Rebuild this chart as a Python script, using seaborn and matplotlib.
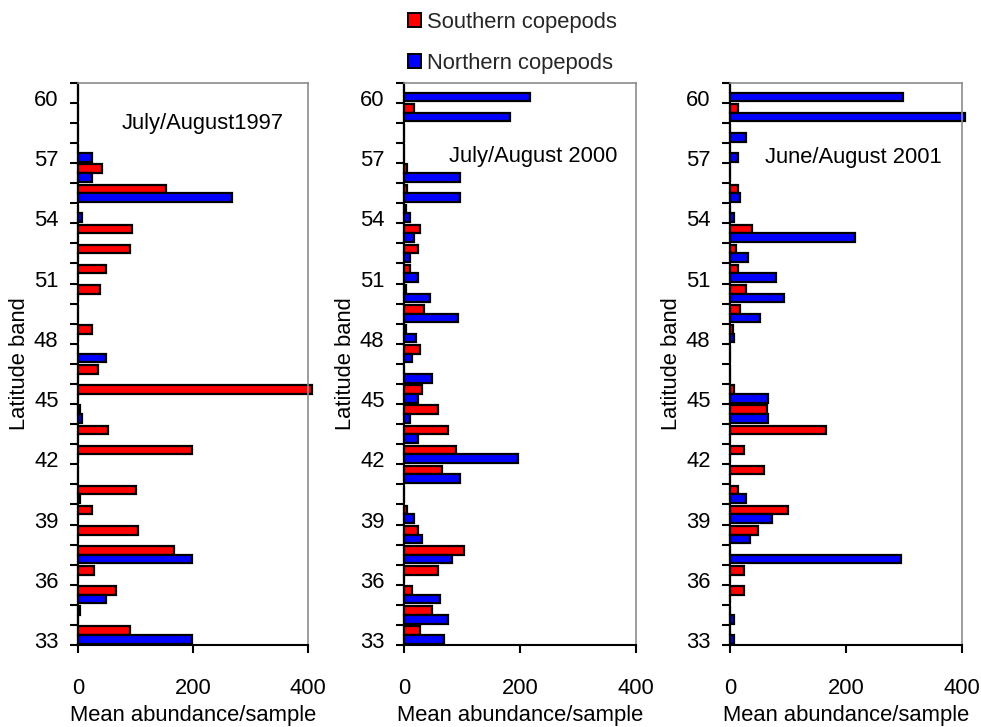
import numpy as np
import pandas as pd
import matplotlib
matplotlib.use("Agg")
import matplotlib.pyplot as plt
import seaborn as sns
from matplotlib.patches import Patch
from matplotlib.transforms import ScaledTranslation

# ---------------- data ----------------
latitudes = list(range(33, 61))  # latitude bands 33..60

south_1997 = [90, 3, 66, 28, 167, 104, 24, 101, 0, 199, 52, 3, 407, 35, 0, 24,
              0, 38, 48, 90, 94, 0, 153, 42, 0, 0, 0, 0]
north_1997 = [199, 0, 49, 0, 199, 0, 0, 3, 0, 0, 0, 7, 0, 0, 49, 0,
              0, 0, 0, 0, 0, 7, 268, 24, 24, 0, 0, 0]

south_2000 = [28, 48, 13, 59, 104, 24, 6, 0, 66, 90, 76, 59, 31, 0, 28, 3,
              35, 3, 10, 24, 28, 3, 6, 6, 0, 0, 17, 0]
north_2000 = [69, 76, 62, 0, 83, 31, 17, 0, 97, 197, 24, 10, 24, 48, 14, 21,
              93, 45, 24, 10, 17, 10, 97, 97, 0, 0, 183, 218]

south_2001 = [0, 0, 24, 24, 0, 48, 100, 14, 59, 24, 166, 64, 7, 0, 0, 6,
              17, 28, 14, 10, 38, 0, 14, 0, 0, 0, 14, 0]
north_2001 = [7, 7, 0, 0, 294, 35, 73, 28, 0, 0, 0, 66, 66, 0, 0, 7,
              52, 93, 79, 31, 215, 7, 18, 0, 14, 28, 405, 298]

titles = ["July/August1997", "July/August 2000", "June/August 2001"]
groups = ["Southern copepods", "Northern copepods"]
colors = ["#FF0000", "#0000FF"]
xticks = [0, 200, 400]
ytick_labels = list(range(33, 61, 3))
xlabel = "Mean abundance/sample"
ylabel = "Latitude band"

panels = [(south_1997, north_1997), (south_2000, north_2000), (south_2001, north_2001)]

# ---------------- style ----------------
sns.set_theme(style="white")
plt.rcParams["font.family"] = ["Liberation Sans", "DejaVu Sans"]
FS = 15.8

W, H = 981, 727
fig = plt.figure(figsize=(W / 100, H / 100), dpi=100)

lefts = [78, 404, 730]
widths = [230, 232, 232]
ax_bottom, ax_top = 645, 82.7
title_pos = [(0.543, 0.918), (0.556, 0.859), (0.530, 0.858)]

order = [str(v) for v in reversed(latitudes)]
n = len(latitudes)

for i, ((south, north), title) in enumerate(zip(panels, titles)):
    ax = fig.add_axes([lefts[i] / W, (H - ax_bottom) / H, widths[i] / W,
                       (ax_bottom - ax_top) / H])
    df = pd.DataFrame({
        "lat": [str(v) for v in latitudes] * 2,
        "group": [groups[0]] * n + [groups[1]] * n,
        "value": list(south) + list(north),
    })
    sns.barplot(data=df, y="lat", x="value", hue="group", hue_order=groups,
                order=order, palette=colors, orient="h", width=0.86,
                errorbar=None, edgecolor="black", linewidth=1.6,
                saturation=1, legend=False, ax=ax)
    for p in ax.patches:
        p.set_clip_on(False)

    ax.set_xlim(0, 400)
    ax.set_xticks(xticks)
    ax.set_xticklabels([str(t) for t in xticks])
    ax.set_ylim(n - 0.5, -0.5)
    ypos = np.arange(-0.5, n, 1.0)
    ax.set_yticks(ypos)
    labs = []
    for p in ypos:
        lat = int(round(60.5 - p))
        labs.append(str(lat) if lat in ytick_labels else "")
    ax.set_yticklabels(labs)

    ax.set_xlabel(xlabel, fontsize=FS, labelpad=4, color="black")
    ax.set_ylabel(ylabel, fontsize=FS, labelpad=3, color="black")

    ax.tick_params(axis="y", left=True, direction="out", length=6, width=1.5,
                   color="black", pad=8, labelsize=FS, labelcolor="black")
    ax.tick_params(axis="x", bottom=True, direction="out", length=6, width=1.5,
                   color="black", pad=18, labelsize=FS, labelcolor="black")

    for s in ["left", "bottom"]:
        ax.spines[s].set_color("black")
        ax.spines[s].set_linewidth(1.5)
    for s in ["top", "right"]:
        ax.spines[s].set_color("#8c8c8c")
        ax.spines[s].set_linewidth(1.2)

    ax.text(title_pos[i][0], title_pos[i][1], title, transform=ax.transAxes,
            ha="center", va="baseline", fontsize=FS, color="black")

    off = ScaledTranslation(0, 0.05, fig.dpi_scale_trans)
    for t in ax.yaxis.get_major_ticks():
        t.label1.set_transform(t.label1.get_transform() + off)

handles = [Patch(facecolor=c, edgecolor="black", linewidth=1.4, label=g)
           for c, g in zip(colors, groups)]
fig.legend(handles=handles, loc="upper left", bbox_to_anchor=(408 / W, 1 - 12 / H),
           frameon=False, fontsize=FS, handlelength=0.58, handleheight=0.62,
           handletextpad=0.3, labelspacing=0.9, borderpad=0, borderaxespad=0)

fig.savefig("out.png", dpi=100)
